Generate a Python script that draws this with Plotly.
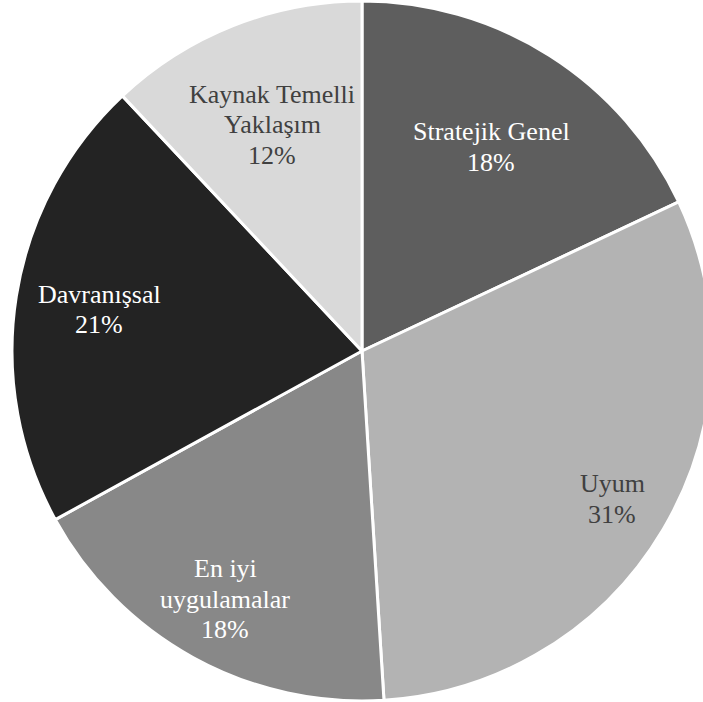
import math
import plotly.graph_objects as go

# Share of studies per approach (percent)
categories = ["Stratejik Genel", "Uyum", "En iyi uygulamalar", "Davranışsal", "Kaynak Temelli Yaklaşım"]
label_lines = [["Stratejik Genel"], ["Uyum"], ["En iyi", "uygulamalar"], ["Davranışsal"], ["Kaynak Temelli", "Yaklaşım"]]
values = [18, 31, 18, 21, 12]

slice_colors = ["#5e5e5e", "#b3b3b3", "#888888", "#232323", "#d9d9d9"]
text_colors = ["#ffffff", "#404040", "#ffffff", "#ffffff", "#404040"]
# radial position of each label, as a fraction of the pie radius
label_radius = [0.69, 0.83, 0.81, 0.76, 0.695]

W, H = 712, 702
ML, MR, MT, MB = 12, 0, 1, 1
FONT_SIZE = 26
LINE_STEP = 30.5  # px between baselines of a label's lines

fig = go.Figure(go.Pie(
    labels=categories,
    values=values,
    sort=False,
    direction="clockwise",
    rotation=0,
    marker=dict(colors=slice_colors, line=dict(color="#ffffff", width=3)),
    textinfo="none",
    hoverinfo="label+percent",
    showlegend=False,
    domain=dict(x=[0, 1], y=[0, 1]),
))

# pie geometry in pixels (same rule plotly uses for a full domain)
pw, ph = W - ML - MR, H - MT - MB
R = min(pw, ph) / 2
cx, cy = ML + pw / 2, MT + ph / 2

total = sum(values)
cum = 0
for lines, val, tc, rf in zip(label_lines, values, text_colors, label_radius):
    mid = (cum + val / 2) / total * 2 * math.pi
    cum += val
    px = cx + rf * R * math.sin(mid)
    py = cy - rf * R * math.cos(mid)
    pct = round(val / total * 100)
    rows = lines + [f"{pct}%"]
    n = len(rows)
    for i, row in enumerate(rows):
        ly = py + (i - (n - 1) / 2) * LINE_STEP
        fig.add_annotation(
            x=(px - ML) / pw, y=(H - MB - ly) / ph,
            xref="paper", yref="paper",
            text=row,
            showarrow=False,
            font=dict(family="serif", size=FONT_SIZE, color=tc),
            xanchor="center", yanchor="middle", align="center",
        )

fig.update_layout(
    width=W, height=H, autosize=False,
    margin=dict(l=ML, r=MR, t=MT, b=MB),
    paper_bgcolor="#ffffff", plot_bgcolor="#ffffff",
    font=dict(family="serif"),
)

fig.write_html("out.html")
